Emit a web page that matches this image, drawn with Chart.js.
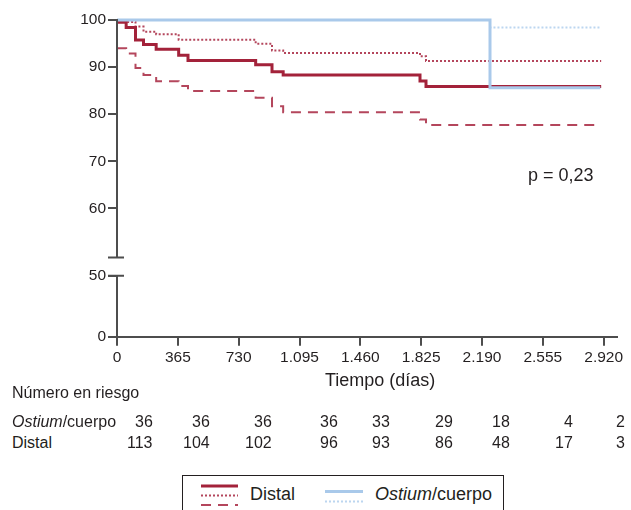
<!DOCTYPE html>
<html>
<head>
<meta charset="utf-8">
<script src="https://cdn.jsdelivr.net/npm/chart.js@4"></script>
<style>
  body { margin: 0; width: 631px; height: 510px; position: relative; overflow: hidden; background: #fff;
         font-family: "Liberation Sans", Arial, sans-serif; color: #231f20; }
  #wrap { position: absolute; left: 0; top: 0; width: 631px; height: 395px; }
  .t { position: absolute; white-space: nowrap; line-height: 1; }
  #legendBox { position: absolute; left: 182px; top: 475px; width: 320px; height: 50px; border: 1px solid #231f20; }
</style>
</head>
<body>
<div id="wrap"><canvas id="km"></canvas></div>
<div id="overlay"></div>
<div id="legendBox"></div>
<svg id="legendLines" width="631" height="510" style="position:absolute;left:0;top:0;pointer-events:none"></svg>
<script>
// Kaplan-Meier curves (days, % free of event)
const distalDays  = [0, 55, 111, 159, 235, 370, 426, 832, 930, 997, 1818, 1854, 2905];
const distalSurv  = [99.5, 98.4, 95.75, 94.8, 93.8, 92.5, 91.4, 90.5, 89.0, 88.3, 87.05, 85.9, 85.9];
const distalUpper = [100, 99.6, 98.6, 97.5, 96.96, 95.8, 95.8, 94.97, 93.5, 93.0, 92.3, 91.3, 91.3];
const distalLower = [94.0, 92.9, 89.8, 88.3, 87.0, 86.0, 84.9, 83.5, 81.7, 80.4, 78.9, 77.7, 77.7];

const ostiumDays  = [0, 2238, 2900];
const ostiumSurv  = [100, 85.6, 85.6];
const ostiumUpper = [100, 98.4, 98.4];

const xTicks = [0, 365, 730, 1095, 1460, 1825, 2190, 2555, 2920];
const yTickLabels = ['0', '50', '60', '70', '80', '90', '100'];

const riskRows = ['Ostium/cuerpo', 'Distal'];
const riskOstium = [36, 36, 36, 36, 33, 29, 18, 4, 2];
const riskDistal = [113, 104, 102, 96, 93, 86, 48, 17, 3];

// layout
const riskColRight = [153, 210, 272, 338, 390, 453, 510, 573, 625];
const axisColor = '#4d4d4d';
const textColor = '#231f20';
const red = '#a3223a';
const redLight = '#b4465c';
const blue = '#a9c9ea';
const blueLight = '#bcd6f0';

// y axis is broken: 55..100 linear, 0..50 squeezed below the break
const breakTop = 49.6;
const lowZero = 32.76, lowFifty = 45.71;
function yPos(v) {
  return v >= 55 ? v : lowZero + v * (lowFifty - lowZero) / 50;
}
function fmtDays(v) {
  return String(v).replace(/\B(?=(\d{3})+(?!\d))/g, '.');
}
function pts(xs, ys) {
  return xs.map((x, i) => ({ x: x, y: yPos(ys[i]) }));
}

const brokenAxis = {
  id: 'brokenAxis',
  afterDraw(chart) {
    const { ctx, chartArea: a } = chart;
    const y = chart.scales.y;
    const x0 = a.left;
    const top = y.getPixelForValue(100) - 1;
    const capHigh = y.getPixelForValue(breakTop);
    const capLow = y.getPixelForValue(lowFifty);
    ctx.save();
    ctx.strokeStyle = axisColor;
    ctx.lineWidth = 2;
    ctx.beginPath();
    ctx.moveTo(x0, top); ctx.lineTo(x0, capHigh);
    ctx.moveTo(x0 - 9, capHigh); ctx.lineTo(x0 + 7, capHigh);
    ctx.moveTo(x0 - 9, capLow); ctx.lineTo(x0 + 7, capLow);
    ctx.moveTo(x0, capLow); ctx.lineTo(x0, a.bottom + 1);
    ctx.stroke();
    ctx.restore();
  }
};

new Chart(document.getElementById('km'), {
  type: 'line',
  data: {
    datasets: [
      { label: 'Ostium/cuerpo', data: pts(ostiumDays, ostiumSurv), borderColor: blue, borderWidth: 3 },
      { label: 'Distal', data: pts(distalDays, distalSurv), borderColor: red, borderWidth: 3 },
      { label: 'Ostium IC sup', data: pts(ostiumDays, ostiumUpper), borderColor: blueLight, borderWidth: 2, borderDash: [2, 2] },
      { label: 'Distal IC sup', data: pts(distalDays, distalUpper), borderColor: redLight, borderWidth: 2, borderDash: [2, 2] },
      { label: 'Distal IC inf', data: pts(distalDays, distalLower), borderColor: redLight, borderWidth: 2, borderDash: [10, 7] }
    ]
  },
  options: {
    responsive: true,
    maintainAspectRatio: false,
    animation: false,
    layout: { padding: { left: 0, right: 14, top: 20, bottom: 0 } },
    datasets: { line: { stepped: 'before', pointRadius: 0, fill: false, clip: 4 } },
    plugins: { legend: { display: false }, tooltip: { enabled: false } },
    scales: {
      x: {
        type: 'linear', min: 0, max: 3000,
        border: { display: true, color: axisColor, width: 2 },
        grid: { drawOnChartArea: false, tickLength: 9, color: axisColor, lineWidth: 2 },
        ticks: { color: textColor, font: { size: 15.5 }, padding: 3, maxRotation: 0, autoSkip: false, callback: v => fmtDays(v) },
        afterBuildTicks: s => { s.ticks = xTicks.map(v => ({ value: v })); },
        afterFit: s => { s.height = 58.3; }
      },
      y: {
        min: lowZero, max: 100,
        border: { display: false },
        grid: { drawOnChartArea: false, tickLength: 9, color: axisColor, lineWidth: 2 },
        ticks: { color: textColor, font: { size: 15.5 }, padding: 2, callback: (v, i) => yTickLabels[i] },
        afterBuildTicks: s => { s.ticks = yTickLabels.map(l => ({ value: yPos(+l) })); },
        afterFit: s => { s.width = 117; }
      }
    }
  },
  plugins: [brokenAxis]
});

// texts: p value, axis title, number at risk table, legend
const overlay = document.getElementById('overlay');
function addText(html, left, top, size) {
  const d = document.createElement('div');
  d.className = 't';
  d.style.left = left + 'px';
  d.style.top = top + 'px';
  d.style.fontSize = size + 'px';
  d.innerHTML = html;
  overlay.appendChild(d);
  return d;
}
function rowLabel(name) {
  return name.replace('Ostium', '<i>Ostium</i>');
}
addText('p = 0,23', 528, 166, 18);
const title = addText('Tiempo (días)', 0, 371, 18);
title.style.left = (380 - title.offsetWidth / 2) + 'px';
addText('Número en riesgo', 12, 385, 16);
[riskOstium, riskDistal].forEach((row, r) => {
  const top = 414 + r * 21;
  addText(rowLabel(riskRows[r]), 12, top, 16);
  row.forEach((n, i) => {
    const d = addText(String(n), 0, top, 16);
    d.style.left = (riskColRight[i] - d.offsetWidth) + 'px';
  });
});
addText('Distal', 250, 485, 18);
addText('<i>Ostium</i>/cuerpo', 375, 485, 18);

const svg = document.getElementById('legendLines');
function sample(x1, x2, y, color, w, dash) {
  const l = document.createElementNS('http://www.w3.org/2000/svg', 'line');
  l.setAttribute('x1', x1); l.setAttribute('x2', x2);
  l.setAttribute('y1', y); l.setAttribute('y2', y);
  l.setAttribute('stroke', color); l.setAttribute('stroke-width', w);
  if (dash) l.setAttribute('stroke-dasharray', dash);
  svg.appendChild(l);
}
sample(201, 238, 486, red, 3);
sample(201, 238, 495.5, redLight, 2, '2 2');
sample(201, 238, 505, redLight, 2, '10 7');
sample(325, 363, 491.5, blue, 3);
sample(325, 363, 501.5, blueLight, 2, '2 2');
</script>
</body>
</html>
